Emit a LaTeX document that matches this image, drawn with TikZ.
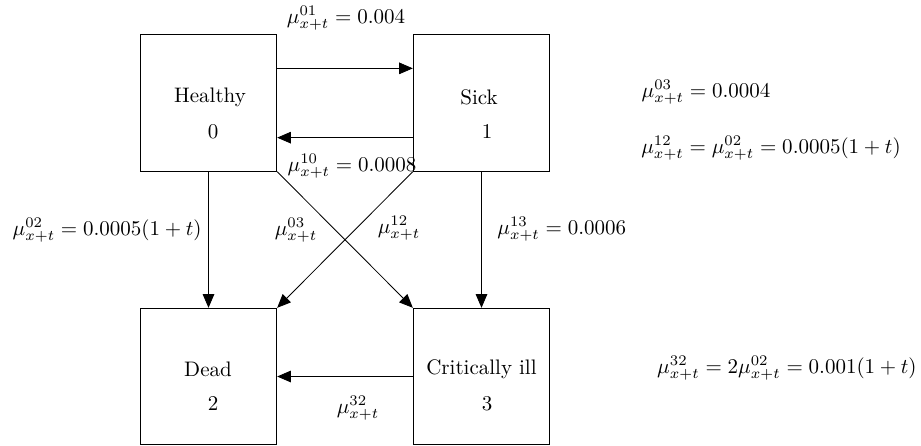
\documentclass[tikz,border=0pt]{standalone}
\usetikzlibrary{arrows.meta}
\begin{document}
\begin{tikzpicture}[x=0.4762pt,y=-0.4762pt,
  statebox/.style={draw,rectangle,minimum width=65pt,minimum height=65pt,inner sep=0pt},
  lbl/.style={inner sep=0pt},
  arr/.style={-{Triangle[length=6.5pt,width=5.5pt]}}]
\useasboundingbox (0,0) rectangle (921,446);
\node[statebox] (H) at (208.5,103) {};
\node[statebox] (S) at (481.5,103) {};
\node[statebox] (D) at (208.5,376.5) {};
\node[statebox] (C) at (481.5,376.5) {};
\node[lbl] (Ht) at (210,97) {Healthy};
\node[lbl] (Hn) at (213,132) {0};
\node[lbl] (St) at (479,97) {Sick};
\node[lbl] (Sn) at (487,132) {1};
\node[lbl] (Dt) at (208,369) {Dead};
\node[lbl] (Dn) at (213,404) {2};
\node[lbl] (Ct) at (481.5,369) {Critically ill};
\node[lbl] (Cn) at (487,404) {3};
\draw[arr] ([yshift=-16.2pt]H.north east) -- ([yshift=-16.2pt]S.north west);
\draw[arr] ([yshift=16.2pt]S.south west) -- ([yshift=16.2pt]H.south east);
\draw[arr] (H.south) -- (D.north);
\draw[arr] (S.south) -- (C.north);
\draw[arr] (H.south east) -- (C.north west);
\draw[arr] (S.south west) -- (D.north east);
\draw[arr] (C.west) -- (D.east);
\node[lbl] (l01) at (346,18) {$\mu^{01}_{x+t}=0.004$};
\node[lbl] (l10) at (352,166) {$\mu^{10}_{x+t}=0.0008$};
\node[lbl,anchor=east] (l02) at (202,230) {$\mu^{02}_{x+t}=0.0005(1+t)$};
\node[lbl] (l03) at (296,230) {$\mu^{03}_{x+t}$};
\node[lbl] (l12) at (399,228) {$\mu^{12}_{x+t}$};
\node[lbl,anchor=west] (l13) at (497,229) {$\mu^{13}_{x+t}=0.0006$};
\node[lbl] (l32) at (358,408) {$\mu^{32}_{x+t}$};
\node[lbl] (r03) at (706,92) {$\mu^{03}_{x+t}=0.0004$};
\node[lbl] (r12) at (771,148) {$\mu^{12}_{x+t}=\mu^{02}_{x+t}=0.0005(1+t)$};
\node[lbl,anchor=east] (r32) at (917,368) {$\mu^{32}_{x+t}=2\mu^{02}_{x+t}=0.001(1+t)$};
\end{tikzpicture}
\end{document}
